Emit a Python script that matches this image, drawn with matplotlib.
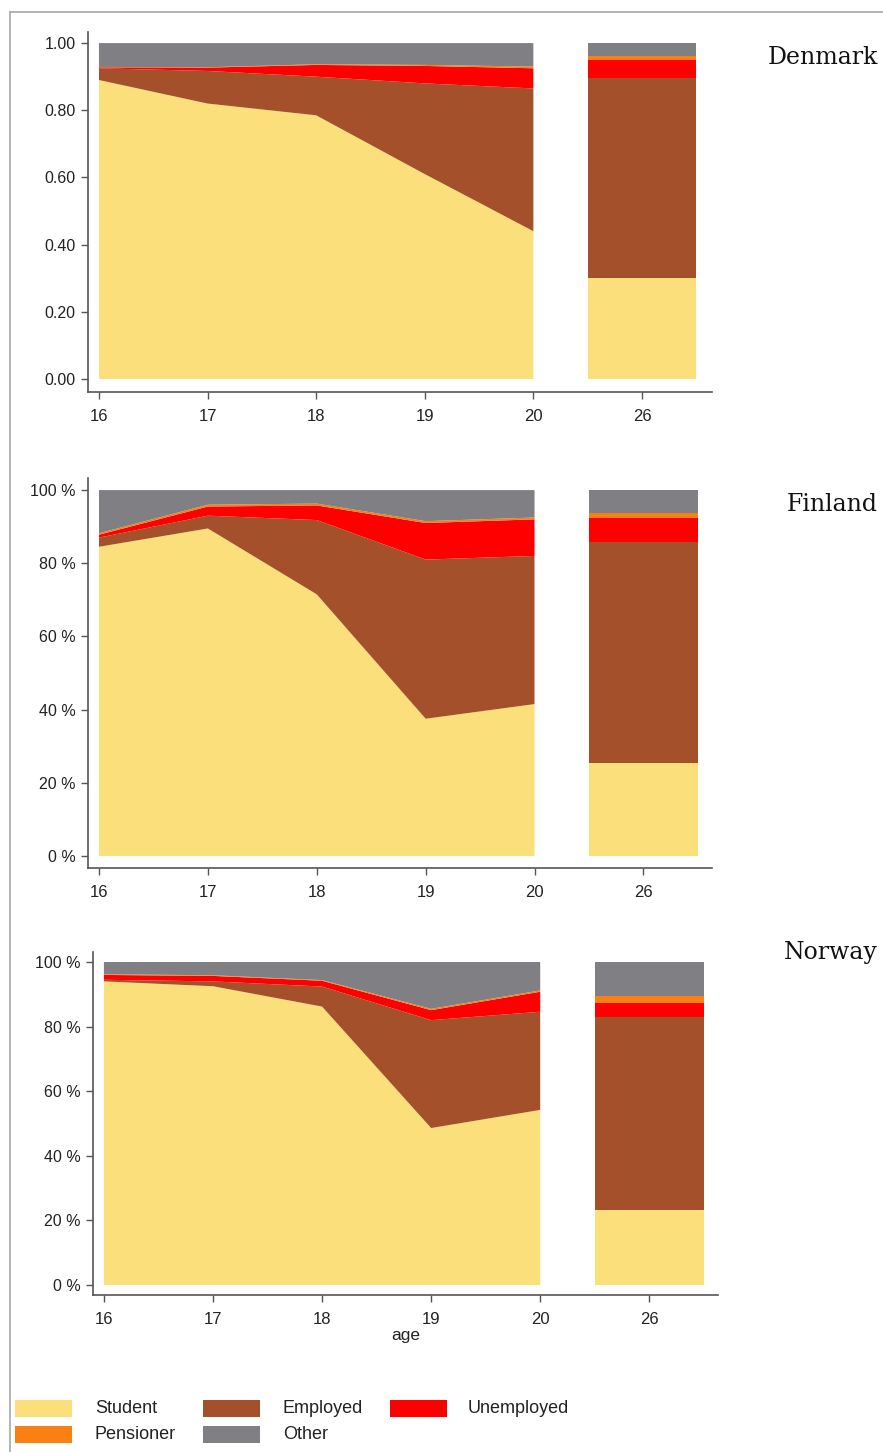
import matplotlib
matplotlib.use("Agg")
import matplotlib.pyplot as plt
import numpy as np
from matplotlib.lines import Line2D
from matplotlib.patches import Rectangle

# ---------------- data ----------------
categories = ["Student", "Employed", "Unemployed", "Pensioner", "Other"]
age_positions = [16, 17, 18, 19, 20]
bar_position = 21
tick_labels = ["16", "17", "18", "19", "20", "26"]
countries = ["Denmark", "Finland", "Norway"]

# values for ages 16,17,18,19,20 and (last) 26
dk_student    = [0.890, 0.820, 0.785, 0.610, 0.440, 0.300]
dk_employed   = [0.035, 0.097, 0.115, 0.270, 0.425, 0.595]
dk_unemployed = [0.003, 0.010, 0.035, 0.052, 0.060, 0.055]
dk_pensioner  = [0.001, 0.001, 0.002, 0.003, 0.005, 0.012]
dk_other      = [0.071, 0.072, 0.063, 0.065, 0.070, 0.038]

fi_student    = [0.845, 0.895, 0.715, 0.375, 0.415, 0.255]
fi_employed   = [0.025, 0.035, 0.203, 0.435, 0.405, 0.604]
fi_unemployed = [0.008, 0.025, 0.040, 0.100, 0.100, 0.066]
fi_pensioner  = [0.004, 0.005, 0.005, 0.005, 0.005, 0.013]
fi_other      = [0.118, 0.040, 0.037, 0.085, 0.075, 0.062]

no_student    = [0.940, 0.925, 0.862, 0.486, 0.542, 0.232]
no_employed   = [0.005, 0.015, 0.062, 0.334, 0.304, 0.597]
no_unemployed = [0.015, 0.017, 0.018, 0.031, 0.062, 0.043]
no_pensioner  = [0.002, 0.002, 0.002, 0.004, 0.004, 0.023]
no_other      = [0.038, 0.041, 0.056, 0.145, 0.088, 0.105]

dk_ticklabels = ["0.00", "0.20", "0.40", "0.60", "0.80", "1.00"]
pct_ticklabels = ["0 %", "20 %", "40 %", "60 %", "80 %", "100 %"]
y_ticks = [0, 0.2, 0.4, 0.6, 0.8, 1.0]

colors = ["#FADF7A", "#A4512B", "#FF0000", "#F98012", "#7F7F84"]

# ---------------- layout ----------------
W, H = 883, 1452
fig = plt.figure(figsize=(W / 100, H / 100), dpi=100)
plt.rcParams["font.family"] = ["Liberation Sans", "DejaVu Sans"]

def px_axes(left, top, right, bottom):
    return fig.add_axes([left / W, 1 - bottom / H, (right - left) / W, (bottom - top) / H])

# frame line around the figure
fig.add_artist(Line2D([10 / W, 10 / W], [0, 1 - 12 / H], transform=fig.transFigure,
                      color="#A8A8A8", lw=1.2))
fig.add_artist(Line2D([10 / W, 1], [1 - 12 / H, 1 - 12 / H], transform=fig.transFigure,
                      color="#A8A8A8", lw=1.2))

panels = [
    ("Denmark", [dk_student, dk_employed, dk_unemployed, dk_pensioner, dk_other],
     dk_ticklabels, (88, 32, 712, 392), (15.899, 21.645), (-0.0387, 1.033), (878, 57)),
    ("Finland", [fi_student, fi_employed, fi_unemployed, fi_pensioner, fi_other],
     pct_ticklabels, (88, 478, 712, 868), (15.899, 21.63), (-0.033, 1.033), (878, 505)),
    ("Norway", [no_student, no_employed, no_unemployed, no_pensioner, no_other],
     pct_ticklabels, (93, 952, 718, 1295), (15.9, 21.63), (-0.031, 1.031), (878, 953)),
]

for name, series, ylabels, rect, xlim, ylim, lab in panels:
    ax = px_axes(*rect)
    area_vals = [s[:5] for s in series]
    ax.stackplot(age_positions, *area_vals, colors=colors, linewidth=0)
    bottom = 0.0
    for s, c in zip(series, colors):
        ax.bar(bar_position, s[5], bottom=bottom, width=1.0, color=c, linewidth=0)
        bottom += s[5]
    ax.set_xlim(*xlim)
    ax.set_ylim(*ylim)
    ax.set_xticks(age_positions + [bar_position])
    ax.set_xticklabels(tick_labels)
    ax.set_yticks(y_ticks)
    ax.set_yticklabels(ylabels)
    for sp in ["top", "right"]:
        ax.spines[sp].set_visible(False)
    for sp in ["left", "bottom"]:
        ax.spines[sp].set_color("#555555")
        ax.spines[sp].set_linewidth(1.2)
    ax.tick_params(axis="both", direction="out", length=5, width=1, color="#555555",
                   labelcolor="#222222")
    ax.tick_params(axis="x", labelsize=12, pad=7)
    ax.tick_params(axis="y", labelsize=11.5, pad=4)
    ax.set_facecolor("white")
    fig.text(lab[0] / W, 1 - lab[1] / H, name, ha="right", va="center",
             fontsize=17, family=["DejaVu Serif"], color="#111111")
    if name == "Norway":
        ax.set_xlabel("age", fontsize=12.5, color="#222222", labelpad=1)

# ---------------- legend ----------------
legend_items = [
    (0, 15, 1400), (1, 203, 1400), (2, 390, 1400),
    (3, 15, 1426), (4, 203, 1426),
]
text_x = {15: 95, 203: 283, 390: 468}
for idx, x0, y0 in legend_items:
    fig.add_artist(Rectangle((x0 / W, 1 - (y0 + 17) / H), 57 / W, 17 / H,
                             transform=fig.transFigure, color=colors[idx], lw=0))
    fig.text(text_x[x0] / W, 1 - (y0 + 8.5) / H, categories[idx], ha="left", va="center",
             fontsize=13, color="#222222")

fig.savefig("out.png", dpi=100, facecolor="white")
